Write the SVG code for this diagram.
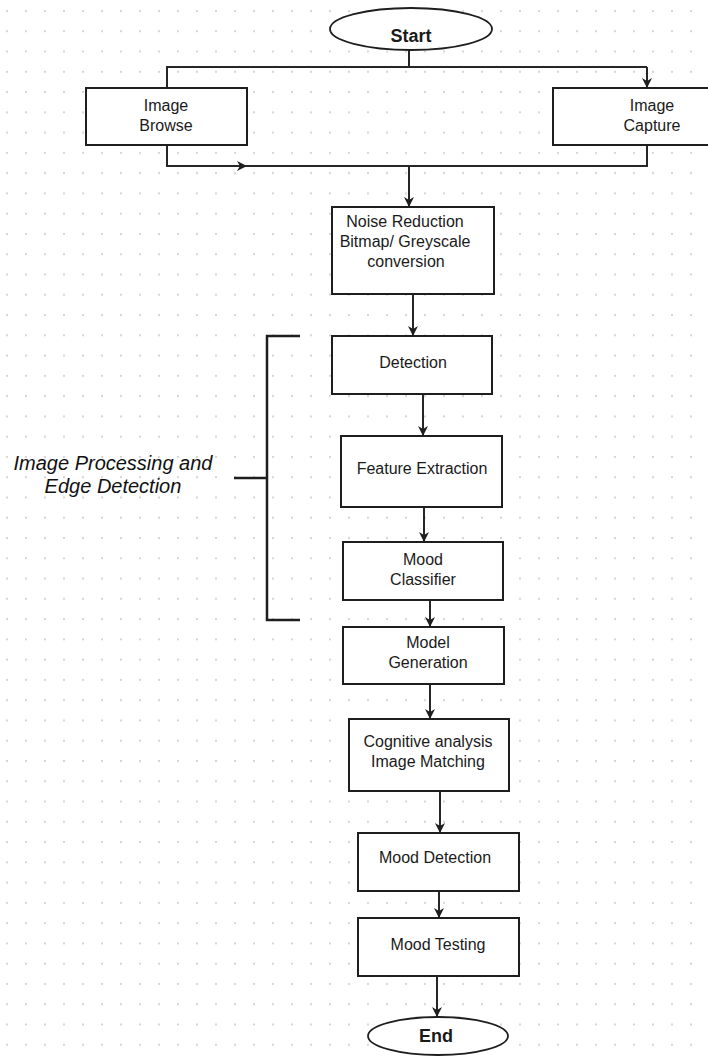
<svg xmlns="http://www.w3.org/2000/svg" width="708" height="1057" viewBox="0 0 708 1057">
<style>
.box{fill:#fff;stroke:#1e1e1e;stroke-width:2}
.term{fill:#fff;stroke:#1e1e1e;stroke-width:1.8}
.t{font-family:"Liberation Sans",Arial,sans-serif;font-size:16px;fill:#1a1a1a;text-anchor:middle}
.tb{font-family:"Liberation Sans",Arial,sans-serif;font-size:18px;font-weight:bold;fill:#1a1a1a;text-anchor:middle}
.lbl{font-family:"Liberation Sans",Arial,sans-serif;font-size:20px;font-style:italic;fill:#111;text-anchor:middle}
.c{fill:none;stroke:#262626;stroke-width:2}
.ca{fill:none;stroke:#262626;stroke-width:2;marker-end:url(#ah)}
.br{fill:none;stroke:#1e1e1e;stroke-width:2.5}
</style>
<defs>
<pattern id="grid" patternUnits="userSpaceOnUse" x="6" y="10" width="19" height="20.27">
<rect x="0" y="0" width="2" height="2" fill="#d6d6d6"/>
</pattern>
<marker id="ah" viewBox="0 0 10 10" refX="10" refY="5" markerWidth="10" markerHeight="10" markerUnits="userSpaceOnUse" orient="auto">
<path d="M0,0 L10,5 L0,10 L3,5 z" fill="#1e1e1e"/>
</marker>
</defs>
<rect x="0" y="0" width="708" height="1057" fill="#fff"/>
<rect x="0" y="0" width="708" height="1057" fill="url(#grid)"/>

<g id="connectors">
<path class="c" d="M409,50 L409,67"/>
<path class="c" d="M167,88 L167,67 L647,67"/>
<path class="ca" d="M647,67 L647,88"/>
<path class="ca" d="M167,145 L167,166 L247,166"/>
<path class="c" d="M245,166 L647,166 L647,145"/>
<path class="ca" d="M409,166 L409,207"/>
<path class="ca" d="M413,294 L413,336"/>
<path class="ca" d="M423,394 L423,436"/>
<path class="ca" d="M424,507 L424,542"/>
<path class="ca" d="M430,600 L430,627"/>
<path class="ca" d="M430,684 L430,719"/>
<path class="ca" d="M440,791 L440,833"/>
<path class="ca" d="M439,891 L439,918"/>
<path class="ca" d="M437,976 L437,1017"/>
</g>

<g id="start">
<ellipse class="term" cx="411" cy="29" rx="81" ry="21"/>
<text class="tb" x="411" y="42">Start</text>
</g>
<g id="image-browse">
<rect class="box" x="86" y="88" width="161" height="57"/>
<text class="t" x="166" y="111">Image</text>
<text class="t" x="166" y="131">Browse</text>
</g>
<g id="image-capture">
<rect class="box" x="553" y="88" width="160" height="57"/>
<text class="t" x="652" y="111">Image</text>
<text class="t" x="652" y="131">Capture</text>
</g>
<g id="noise-reduction">
<rect class="box" x="332" y="207" width="162" height="87"/>
<text class="t" x="405" y="227">Noise Reduction</text>
<text class="t" x="405" y="247">Bitmap/ Greyscale</text>
<text class="t" x="406" y="267">conversion</text>
</g>
<g id="detection">
<rect class="box" x="332" y="336" width="160" height="58"/>
<text class="t" x="413" y="368">Detection</text>
</g>
<g id="feature-extraction">
<rect class="box" x="341" y="436" width="161" height="71"/>
<text class="t" x="422" y="474">Feature Extraction</text>
</g>
<g id="mood-classifier">
<rect class="box" x="343" y="542" width="160" height="58"/>
<text class="t" x="423" y="565">Mood</text>
<text class="t" x="423" y="585">Classifier</text>
</g>
<g id="model-generation">
<rect class="box" x="343" y="627" width="161" height="57"/>
<text class="t" x="428" y="648">Model</text>
<text class="t" x="428" y="668">Generation</text>
</g>
<g id="cognitive-analysis">
<rect class="box" x="349" y="719" width="160" height="72"/>
<text class="t" x="428" y="747">Cognitive analysis</text>
<text class="t" x="428" y="767">Image Matching</text>
</g>
<g id="mood-detection">
<rect class="box" x="358" y="833" width="161" height="58"/>
<text class="t" x="435" y="863">Mood Detection</text>
</g>
<g id="mood-testing">
<rect class="box" x="358" y="918" width="161" height="58"/>
<text class="t" x="438" y="950">Mood Testing</text>
</g>
<g id="end">
<ellipse class="term" cx="438" cy="1036" rx="70" ry="19"/>
<text class="tb" x="436" y="1042">End</text>
</g>
<g id="bracket">
<path class="br" d="M300,336 L267,336 L267,620 L300,620"/>
<path class="br" d="M234,478 L267,478"/>
<text class="lbl" x="113" y="470">Image Processing and</text>
<text class="lbl" x="113" y="493">Edge Detection</text>
</g>
</svg>
